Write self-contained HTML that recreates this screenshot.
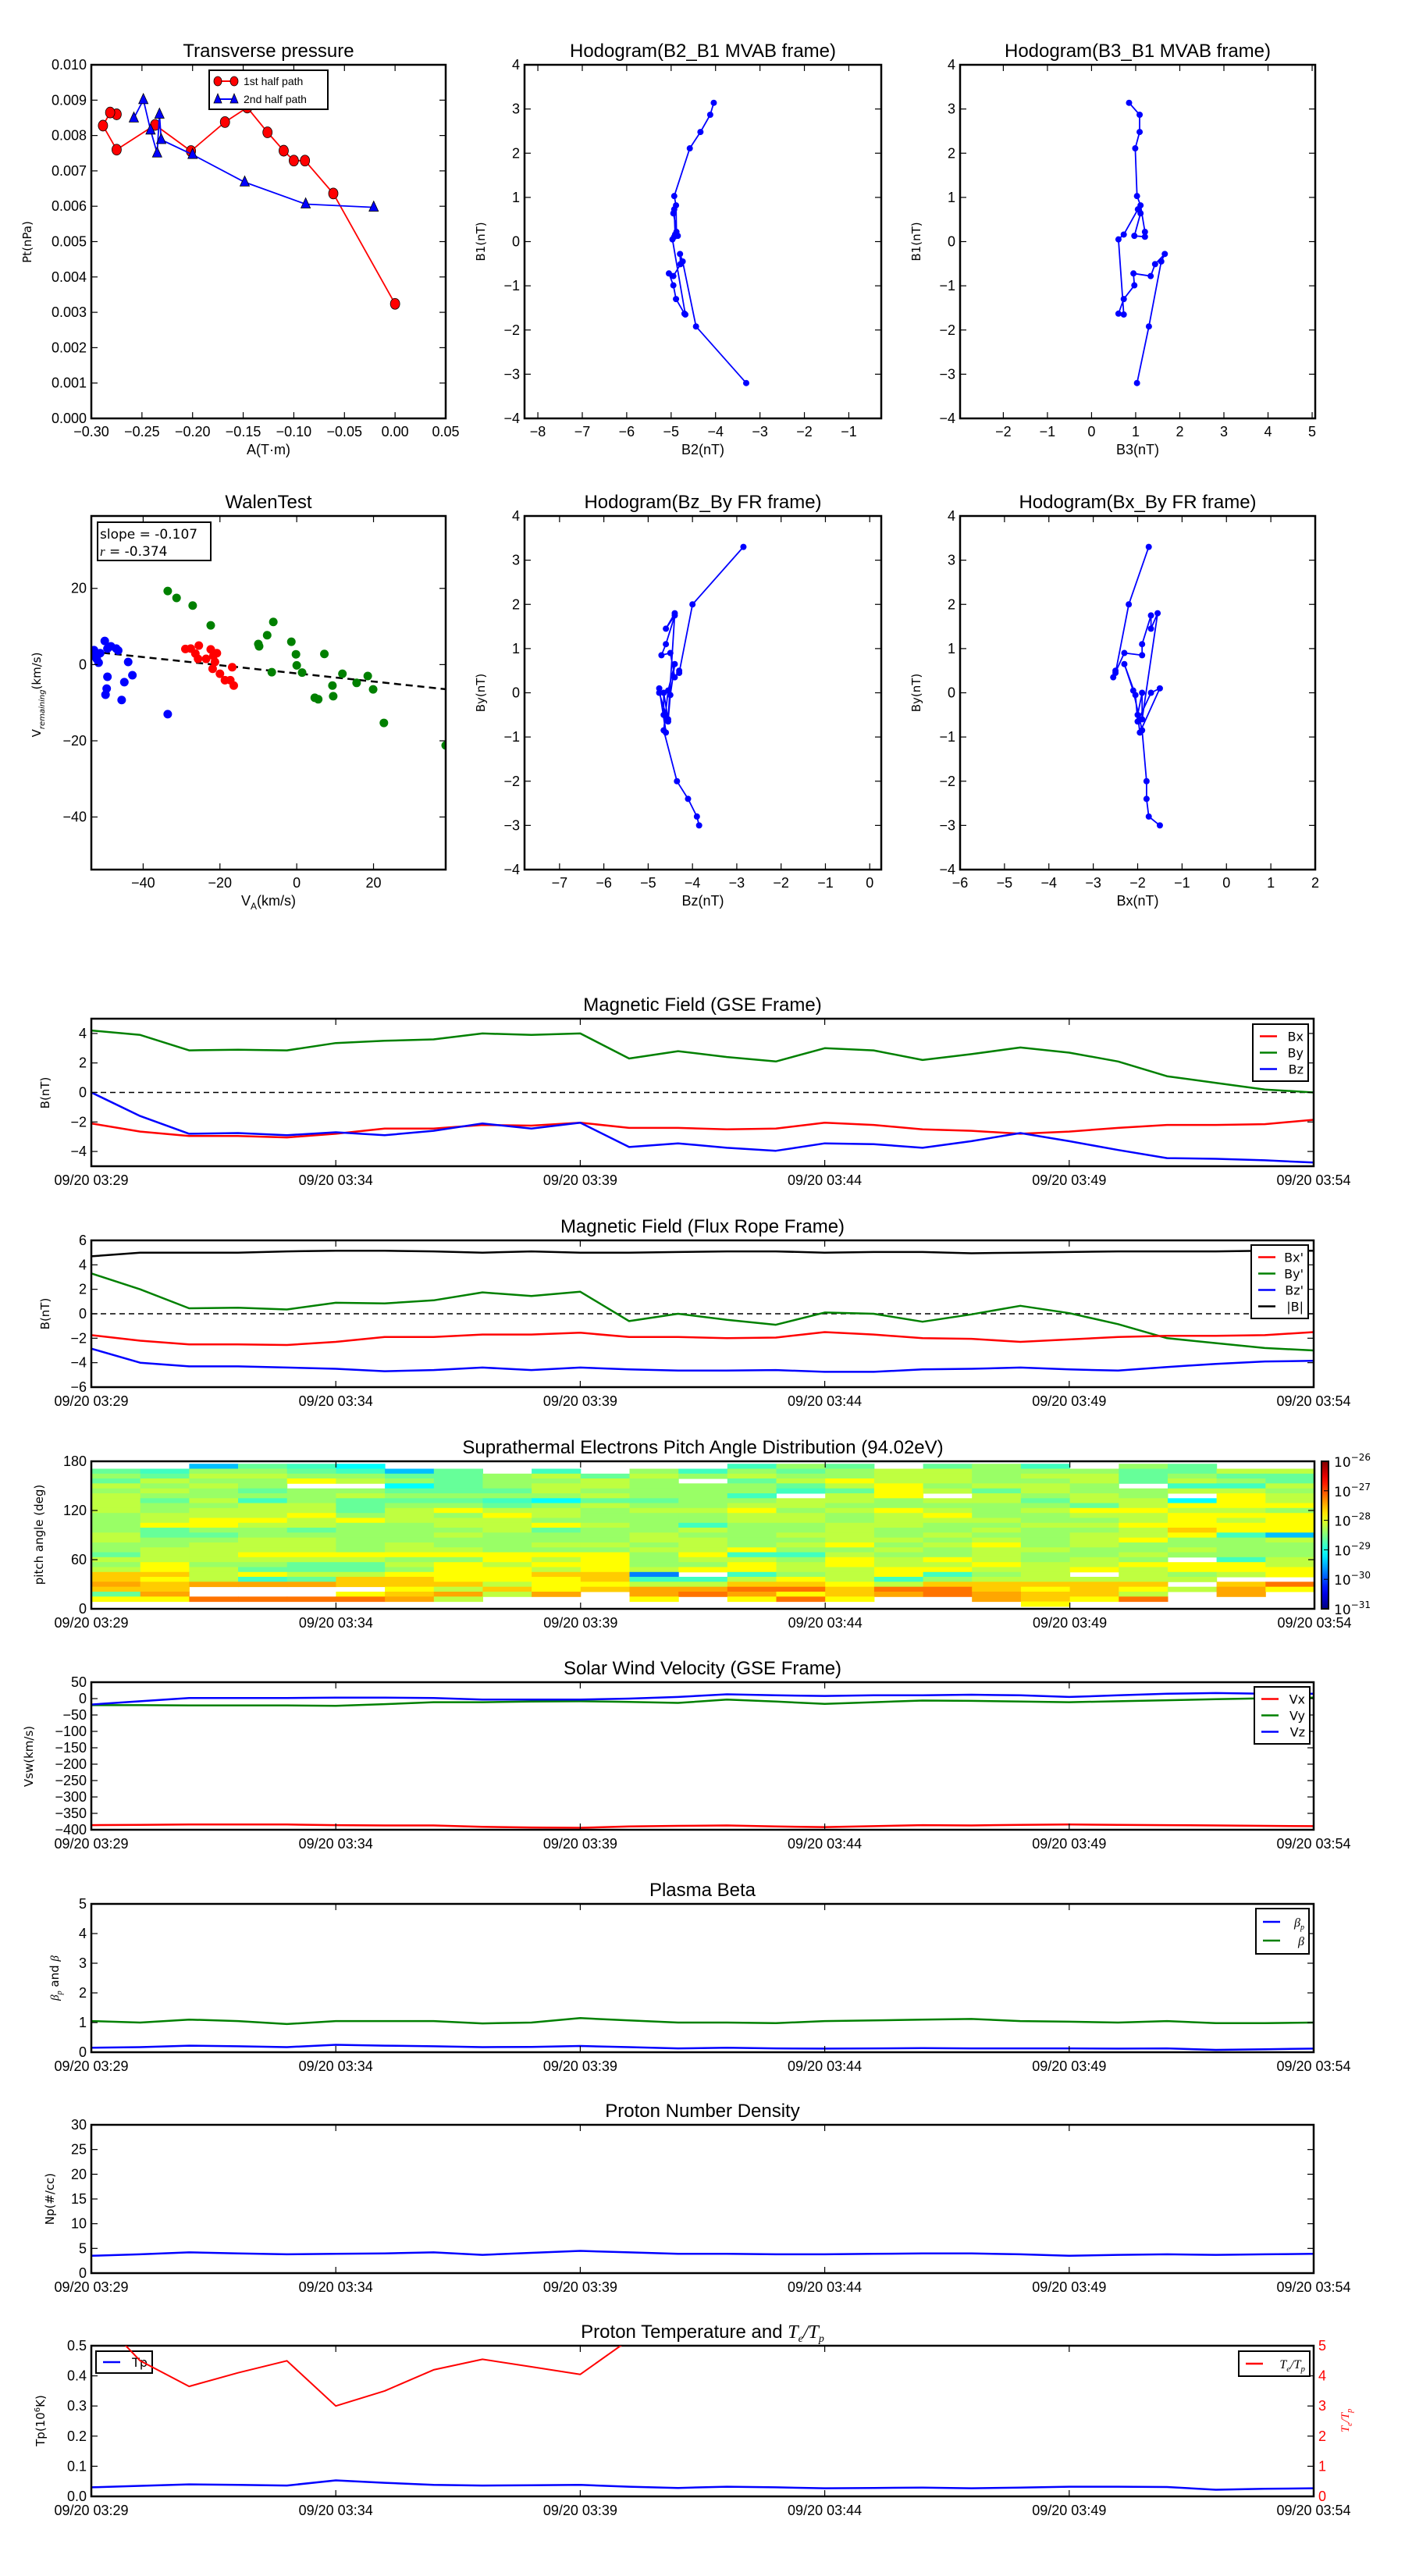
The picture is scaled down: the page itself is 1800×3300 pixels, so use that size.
<!DOCTYPE html>
<html><head><meta charset="utf-8"><title>Flux rope analysis</title>
<style>
html,body{margin:0;padding:0;background:#fff;}
svg{display:block;}
text{font-family:"Liberation Sans",sans-serif;}
.dv{font-family:"DejaVu Sans","Liberation Sans",sans-serif;}
</style></head>
<body>
<svg id="fig" xmlns="http://www.w3.org/2000/svg" width="1800" height="3300" viewBox="0 0 1800 3300">
<defs id="defs"></defs>
<rect x="0" y="0" width="1800" height="3300" fill="#fff"/>
</svg>
<script>
// ---------------- DATA ----------------
// Transverse pressure
const tpRedA = [-0.275,-0.2814,-0.2885,-0.275,-0.237,-0.2016,-0.168,-0.146,-0.126,-0.110,-0.100,-0.089,-0.061,0.0];
const tpRedPt = [0.0086,0.00865,0.00828,0.0076,0.0083,0.00756,0.00838,0.00879,0.00809,0.00757,0.00729,0.00729,0.00636,0.00324];
const tpBlueA = [-0.258,-0.2486,-0.2415,-0.235,-0.2327,-0.231,-0.200,-0.1485,-0.0883,-0.0211];
const tpBluePt = [0.00849,0.00901,0.00815,0.0075,0.0086,0.00788,0.00746,0.00668,0.00606,0.00597];
// MVAB hodograms
const mvB1 = [-3.2,-1.92,-0.45,-0.28,-0.51,-0.78,-0.72,-0.99,-1.30,-1.63,-1.65,0.05,0.16,0.73,0.64,0.13,0.11,0.22,0.82,1.03,2.11,2.48,2.87,3.14];
const mvB2 = [-3.31,-4.44,-4.74,-4.80,-4.79,-4.95,-5.05,-4.95,-4.89,-4.70,-4.68,-4.97,-4.91,-4.93,-4.95,-4.85,-4.93,-4.88,-4.89,-4.93,-4.58,-4.34,-4.12,-4.04];
const mvB3 = [1.03,1.30,1.58,1.66,1.44,1.34,0.95,0.97,0.73,0.61,0.73,0.61,0.73,1.05,1.11,0.97,1.21,1.21,1.11,1.03,0.99,1.09,1.09,0.85];
// Walen test
const walenBlueX = [-52.8,-52.1,-51.2,-50,-49.3,-48.4,-47,-46.5,-49.3,-49.5,-49.8,-43.9,-42.8,-44.9,-45.6,-33.6,-53,-51.6];
const walenBlueY = [3.8,1.5,3,6.2,4.2,4.8,4.2,3.7,-3.2,-6.3,-7.9,0.7,-2.8,-4.6,-9.3,-13,2.3,0.5];
const walenRedX = [-29,-27.6,-26.4,-25.5,-25.7,-22.4,-21.7,-20.8,-21.3,-21.9,-20,-18.7,-17.3,-16.4,-16.8,-23.6];
const walenRedY = [4.1,4.2,2.9,5,1.5,4,2.3,3,0.7,-1.1,-2.4,-4.1,-4.1,-5.5,-0.7,1.5];
const walenGreenX = [-33.6,-31.3,-27.1,-22.4,-6.1,-7.7,-9.8,-10,-1.4,-0.2,0,1.4,-6.5,7.2,11.9,15.6,18.5,19.9,9.3,9.5,4.7,5.6,22.7,38.8];
const walenGreenY = [19.3,17.5,15.5,10.3,11.2,7.7,4.8,5.4,6,2.7,-0.2,-2.1,-2,2.8,-2.4,-4.8,-3,-6.5,-5.5,-8.3,-8.7,-9.1,-15.3,-21.2];
const walenSlope = -0.107;
const walenIntercept = -2.3;
// Time series (minutes after 03:29)
const timeTickMinutes = [0,5,10,15,20,25];
const timeTickLabels = ['09/20 03:29','09/20 03:34','09/20 03:39','09/20 03:44','09/20 03:49','09/20 03:54'];
const gseBx = [-2.1,-2.65,-2.95,-2.95,-3.05,-2.8,-2.45,-2.45,-2.2,-2.25,-2.05,-2.4,-2.4,-2.5,-2.45,-2.05,-2.2,-2.5,-2.6,-2.8,-2.65,-2.4,-2.2,-2.2,-2.15,-1.85];
const gseBy = [4.2,3.9,2.85,2.9,2.85,3.35,3.5,3.6,4.0,3.9,4.0,2.3,2.8,2.4,2.1,3.0,2.85,2.2,2.6,3.05,2.7,2.1,1.1,0.65,0.2,0.0];
const gseBz = [0,-1.6,-2.8,-2.75,-2.9,-2.7,-2.9,-2.6,-2.1,-2.45,-2.05,-3.7,-3.45,-3.75,-3.95,-3.45,-3.5,-3.75,-3.3,-2.75,-3.3,-3.9,-4.45,-4.5,-4.6,-4.75];
const frBx = [-1.75,-2.2,-2.5,-2.5,-2.55,-2.3,-1.9,-1.9,-1.7,-1.7,-1.55,-1.9,-1.9,-2.0,-1.95,-1.5,-1.7,-2.0,-2.05,-2.3,-2.1,-1.9,-1.8,-1.8,-1.75,-1.5];
const frBy = [3.3,2.0,0.45,0.5,0.35,0.9,0.85,1.1,1.75,1.45,1.8,-0.6,0.0,-0.5,-0.9,0.1,0.0,-0.65,-0.05,0.65,0.05,-0.85,-2.0,-2.4,-2.8,-3.0];
const frBz = [-2.85,-4.0,-4.3,-4.3,-4.4,-4.5,-4.7,-4.6,-4.4,-4.6,-4.4,-4.55,-4.65,-4.65,-4.6,-4.75,-4.75,-4.55,-4.5,-4.4,-4.55,-4.65,-4.35,-4.1,-3.9,-3.85];
const frBt = [4.7,5.0,5.0,5.0,5.1,5.15,5.15,5.1,5.0,5.1,5.0,5.0,5.05,5.1,5.1,5.0,5.05,5.05,4.95,5.0,5.05,5.1,5.1,5.1,5.15,5.15];
const swVx = [-386,-385,-384,-384,-384,-386,-387,-387,-391,-393,-394,-390,-388,-387,-390,-392,-389,-386,-387,-385,-384,-385,-386,-387,-388,-389];
const swVy = [-20,-20,-21,-21,-21,-22,-17,-11,-11,-9,-8,-10,-13,-3,-9,-16,-11,-6,-7,-9,-11,-8,-5,-2,1,3];
const swVz = [-18,-8,2,2,2,3,3,2,-3,-3,-3,0,5,13,10,8,10,10,12,10,5,10,15,17,15,15];
const betaP = [0.15,0.17,0.22,0.2,0.17,0.25,0.22,0.2,0.17,0.18,0.21,0.17,0.13,0.15,0.13,0.12,0.13,0.14,0.13,0.13,0.13,0.12,0.13,0.08,0.1,0.12];
const betaT = [1.05,1.0,1.1,1.05,0.95,1.05,1.05,1.05,0.97,1.0,1.15,1.07,1.0,1.0,0.98,1.05,1.07,1.1,1.12,1.05,1.03,1.0,1.05,0.98,0.98,1.0];
const density = [3.5,3.8,4.2,4.0,3.8,3.9,4.0,4.2,3.7,4.1,4.5,4.2,3.9,3.9,3.8,3.8,3.9,4.0,4.0,3.8,3.5,3.7,3.8,3.7,3.8,3.9];
const tempTp = [0.03,0.035,0.04,0.038,0.036,0.053,0.045,0.038,0.036,0.037,0.038,0.032,0.028,0.032,0.03,0.027,0.028,0.029,0.027,0.029,0.032,0.032,0.031,0.022,0.025,0.027];
const tempRatio = [6.2,4.5,3.65,4.1,4.5,3.0,3.5,4.2,4.55,4.3,4.05,5.2,6.0,6.5,6.3,6.6,6.4,6.8,6.5,6.9,6.7,6.6,6.8,7.0,6.9,7.1];
// Pitch angle distribution (rows from 177 deg downward, 6 deg bins; 25 time bins). Level codes -> log10 flux
const padLevelCodes = {k:-29.75,a:-29.44,b:-29.125,c:-28.81,d:-28.625,e:-28.375,f:-28.19,g:-27.875,h:-27.625,i:-27.44,j:-27.19};
const padRows = [
"..adcb.......ced.dec.ed..",
"dceedcad.c.ecedeffeeeddff",
"edffeeddefdfefeeffeffdedd",
"dfeegfedeefe.dfgffeefdfed",
"fefe..bdeffeeedfgeffe.ccf",
"efedeedddfeeeecdgfdfeeffe",
"feeeefeeeefeec.fg.fefe.gf",
"fdfcedddcbddeeffeffdffbgf",
"feeffdeedefeeffeeeeedfggg",
"fefffdfgffeffgefgfefggffe",
"efffgefegfeeeffefgeeffggg",
"efggfgfffeeeeffefffeefgfg",
"eggffeeffgfeceeffeeffgggg",
"edeedeeefdeefeefeefeefhgg",
"fddeeeefeeefeeffefeeffgca",
"feeffeeeeeeffeeffefefgeef",
"eefffefeeffefefgefgefeeee",
"effffeffeeeffgeefeffeefee",
"dffggggggggegccfeefeefeee",
"ffffffeegfgeffegfgfefe.cf",
"egeeddfgfggeegfgffgffgggf",
"fgfdddeggfgfggffggffgfggg",
"hhfgffggghhk.cefgcef.fefg",
"hgfcdhhggghccfgfcefffff..",
"ihiiihhhfggffhhgfhhhhh.hj",
"hh....gfhghiijjhjjhghgfig",
"di...ghifi.ijighijihhf.i.",
"ggjjjjif...g.gjg..ihgj...",
"...................g....."
];
const padTopAngle = 177;
const padBinDeg = 6;
const cbTickExp = [-26,-27,-28,-29,-30,-31];

// ---------------- HELPERS ----------------
const NS = 'http://www.w3.org/2000/svg';
const svg = document.getElementById('fig');
const defs = document.getElementById('defs');
let clipCount = 0;
function mk(tag, attrs, parent, name, inter) {
  const el = document.createElementNS(NS, tag);
  for (const k in attrs) el.setAttribute(k, attrs[k]);
  
  
  (parent || svg).appendChild(el);
  return el;
}
function txt(parent, x, y, s, name, opts) {
  opts = opts || {};
  const el = mk('text', {x: x, y: y, 'font-size': opts.size || 18, 'text-anchor': opts.anchor || 'middle', fill: opts.fill || '#000'}, parent, name, false);
  if (opts.cls) el.setAttribute('class', opts.cls);
  if (opts.rot) el.setAttribute('transform', 'rotate(' + opts.rot + ' ' + x + ' ' + y + ')');
  if (opts.baseline) el.setAttribute('dominant-baseline', opts.baseline);
  el.textContent = s;
  return el;
}
function fmt(v, d) {
  const s = v.toFixed(d);
  return (v < 0 && Math.abs(v) > 1e-12) ? '\u2212' + s.slice(1) : (Math.abs(v) < 1e-12 ? (0).toFixed(d) : s);
}
function panel(name, l, t, r, b, xmin, xmax, ymin, ymax) {
  const g = mk('g', {}, svg, name, false);
  const id = 'clip' + (clipCount++);
  const cp = mk('clipPath', {id: id}, defs, name + '-clip', false);
  mk('rect', {x: l, y: t, width: r - l, height: b - t}, cp, name + '-clip-rect', false);
  const dg = mk('g', {'clip-path': 'url(#' + id + ')'}, g, name + '-plot-area', false);
  return {g: g, dg: dg, l: l, t: t, r: r, b: b,
    X: v => l + (v - xmin) / (xmax - xmin) * (r - l),
    Y: v => b - (v - ymin) / (ymax - ymin) * (b - t)};
}
function frame(p, name) {
  mk('rect', {x: p.l, y: p.t, width: p.r - p.l, height: p.b - p.t, fill: 'none', stroke: '#000', 'stroke-width': 2.5}, p.g, name + '-frame', false);
}
function xticks(p, vals, labels, name, opts) {
  opts = opts || {};
  vals.forEach((v, i) => {
    const x = p.X(v);
    mk('line', {x1: x, y1: p.b, x2: x, y2: p.b - 8, stroke: '#000', 'stroke-width': 1.2}, p.g, name + '-xtick', false);
    mk('line', {x1: x, y1: p.t, x2: x, y2: p.t + 8, stroke: '#000', 'stroke-width': 1.2}, p.g, name + '-xtick-top', false);
    txt(p.g, x, p.b + (opts.dy || 24), labels[i], name + '-xtick-label', {size: 18});
  });
}
function yticks(p, vals, labels, name, opts) {
  opts = opts || {};
  vals.forEach((v, i) => {
    const y = p.Y(v);
    mk('line', {x1: p.l, y1: y, x2: p.l + 8, y2: y, stroke: '#000', 'stroke-width': 1.2}, p.g, name + '-ytick', false);
    if (!opts.noRight) mk('line', {x1: p.r, y1: y, x2: p.r - 8, y2: y, stroke: '#000', 'stroke-width': 1.2}, p.g, name + '-ytick-right', false);
    txt(p.g, p.l - 6, y + 6, labels[i], name + '-ytick-label', {size: 18, anchor: 'end'});
  });
}
function line(p, xs, ys, color, w, name, dash) {
  const pts = xs.map((x, i) => p.X(x).toFixed(1) + ',' + p.Y(ys[i]).toFixed(1)).join(' ');
  const a = {points: pts, fill: 'none', stroke: color, 'stroke-width': w, 'stroke-linejoin': 'round'};
  if (dash) a['stroke-dasharray'] = dash;
  return mk('polyline', a, p.dg, name, false);
}
function dots(p, xs, ys, color, r, name) {
  xs.forEach((x, i) => {
    mk('ellipse', {cx: p.X(x), cy: p.Y(ys[i]), rx: r, ry: r, fill: color}, p.dg, name, false);
  });
}
function idx(arr) { return arr.map((_, i) => i); }
function legend(p, x, y, w, entries, name, opts) {
  opts = opts || {};
  const rowH = opts.rowH || 24;
  const h = entries.length * rowH + 10;
  const g = mk('g', {}, p.g, name, false);
  mk('rect', {x: x, y: y, width: w, height: h, fill: '#fff', stroke: '#000', 'stroke-width': 2}, g, name + '-box', false);
  entries.forEach((e, i) => {
    const cy = y + 5 + rowH * (i + 0.5);
    mk('line', {x1: x + 9, y1: cy, x2: x + 31, y2: cy, stroke: e.c, 'stroke-width': 2.5}, g, name + '-swatch', false);
    const t = txt(g, x + w - 6, cy + 6, '', name + '-label', {size: 16, anchor: 'end', cls: 'dv'});
    if (e.html) { e.html(t); } else { t.textContent = e.t; }
  });
  return g;
}
function title(p, s, name) { return txt(p.g, (p.l + p.r) / 2, p.t - 10, s, name, {size: 24}); }

// ---------------- TRANSVERSE PRESSURE ----------------
(function(){
  const p = panel('transverse-pressure-chart', 117, 83, 571, 536, -0.30, 0.05, 0, 0.010);
  line(p, tpRedA, tpRedPt, '#ff0000', 1.8, 'first-half-path-line');
  tpRedA.forEach((a, i) => {
    mk('ellipse', {cx: p.X(a), cy: p.Y(tpRedPt[i]), rx: 6, ry: 7, fill: '#ff0000', stroke: '#000', 'stroke-width': 0.8}, p.dg, 'first-half-point', false);
  });
  line(p, tpBlueA, tpBluePt, '#0000ff', 1.8, 'second-half-path-line');
  tpBlueA.forEach((a, i) => {
    const x = p.X(a), y = p.Y(tpBluePt[i]);
    mk('polygon', {points: (x) + ',' + (y - 8) + ' ' + (x - 6) + ',' + (y + 5) + ' ' + (x + 6) + ',' + (y + 5), fill: '#0000ff', stroke: '#000', 'stroke-width': 0.8}, p.dg, 'second-half-point', false);
  });
  frame(p, 'transverse-pressure');
  const xv = [-0.30,-0.25,-0.20,-0.15,-0.10,-0.05,0.00,0.05];
  xticks(p, xv, xv.map(v => fmt(v, 2)), 'tp', {dy: 23});
  const yv = [0,0.001,0.002,0.003,0.004,0.005,0.006,0.007,0.008,0.009,0.010];
  yticks(p, yv, yv.map(v => v.toFixed(3)), 'tp');
  title(p, 'Transverse pressure', 'tp-title');
  txt(p.g, 344, 582, 'A(T\u00b7m)', 'tp-x-axis-title', {size: 18});
  txt(p.g, 40, 310, 'Pt(nPa)', 'tp-y-axis-title', {size: 15, rot: -90, cls: 'dv'});
  // legend
  const g = mk('g', {}, p.g, 'tp-legend', false);
  mk('rect', {x: 268, y: 90, width: 152, height: 50, fill: '#fff', stroke: '#000', 'stroke-width': 2}, g, 'tp-legend-box', false);
  mk('line', {x1: 277, y1: 104, x2: 303, y2: 104, stroke: '#ff0000', 'stroke-width': 2}, g, 'tp-legend-red-line', false);
  mk('ellipse', {cx: 279, cy: 104, rx: 5, ry: 6, fill: '#ff0000', stroke: '#000', 'stroke-width': 0.8}, g, 'tp-legend-red-marker', false);
  mk('ellipse', {cx: 300, cy: 104, rx: 5, ry: 6, fill: '#ff0000', stroke: '#000', 'stroke-width': 0.8}, g, 'tp-legend-red-marker', false);
  mk('line', {x1: 277, y1: 127, x2: 303, y2: 127, stroke: '#0000ff', 'stroke-width': 2}, g, 'tp-legend-blue-line', false);
  mk('polygon', {points: '279,120 274,132 284,132', fill: '#0000ff', stroke: '#000', 'stroke-width': 0.8}, g, 'tp-legend-blue-marker', false);
  mk('polygon', {points: '300,120 295,132 305,132', fill: '#0000ff', stroke: '#000', 'stroke-width': 0.8}, g, 'tp-legend-blue-marker', false);
  txt(g, 312, 109, '1st half path', 'tp-legend-label-1', {size: 14, anchor: 'start'});
  txt(g, 312, 132, '2nd half path', 'tp-legend-label-2', {size: 14, anchor: 'start'});
})();

// ---------------- HODOGRAM helper ----------------
function hodogram(name, l, t, r, b, xmin, xmax, xs, ys, xvals, titleS, xl, yl, rowY) {
  const p = panel(name, l, t, r, b, xmin, xmax, -4, 4);
  line(p, xs, ys, '#0000ff', 1.8, name + '-path');
  dots(p, xs, ys, '#0000ff', 4, name + '-point');
  frame(p, name);
  xticks(p, xvals, xvals.map(v => fmt(v, 0)), name, {dy: 23});
  const yv = [-4,-3,-2,-1,0,1,2,3,4];
  yticks(p, yv, yv.map(v => fmt(v, 0)), name);
  title(p, titleS, name + '-title');
  txt(p.g, (l + r) / 2, b + 46, xl, name + '-x-axis-title', {size: 18});
  txt(p.g, l - 51, (t + b) / 2, yl, name + '-y-axis-title', {size: 15, rot: -90, cls: 'dv'});
  return p;
}
hodogram('hodogram-b2-b1', 672, 83, 1129, 536, -8.3, -0.27, mvB2, mvB1, [-8,-7,-6,-5,-4,-3,-2,-1], 'Hodogram(B2_B1 MVAB frame)', 'B2(nT)', 'B1(nT)');
hodogram('hodogram-b3-b1', 1230, 83, 1685, 536, -2.98, 5.07, mvB3, mvB1, [-2,-1,0,1,2,3,4,5], 'Hodogram(B3_B1 MVAB frame)', 'B3(nT)', 'B1(nT)');
hodogram('hodogram-bz-by', 672, 661, 1129, 1114, -7.79, 0.26, frBz, frBy, [-7,-6,-5,-4,-3,-2,-1,0], 'Hodogram(Bz_By FR frame)', 'Bz(nT)', 'By(nT)');
hodogram('hodogram-bx-by', 1230, 661, 1685, 1114, -6, 2, frBx, frBy, [-6,-5,-4,-3,-2,-1,0,1,2], 'Hodogram(Bx_By FR frame)', 'Bx(nT)', 'By(nT)');

// ---------------- WALEN TEST ----------------
(function(){
  const p = panel('walen-test-chart', 117, 661, 571, 1114, -53.5, 38.8, -53.8, 39);
  const lx = [-53.5, 38.8];
  line(p, lx, lx.map(x => walenSlope * x + walenIntercept), '#000', 2.5, 'walen-fit-line', '9,6');
  dots(p, walenBlueX, walenBlueY, '#0000ff', 5.5, 'walen-blue-point');
  dots(p, walenRedX, walenRedY, '#ff0000', 5.5, 'walen-red-point');
  dots(p, walenGreenX, walenGreenY, '#008000', 5.5, 'walen-green-point');
  frame(p, 'walen');
  const xv = [-40,-20,0,20];
  xticks(p, xv, xv.map(v => fmt(v, 0)), 'walen', {dy: 23});
  const yv = [-40,-20,0,20];
  yticks(p, yv, yv.map(v => fmt(v, 0)), 'walen');
  title(p, 'WalenTest', 'walen-title');
  const xl = txt(p.g, 344, 1160, '', 'walen-x-axis-title', {size: 18});
  xl.innerHTML = 'V<tspan font-size="12" dy="5">A</tspan><tspan dy="-5">(km/s)</tspan>';
  const yl = txt(p.g, 52, 890, '', 'walen-y-axis-title', {size: 15, rot: -90, cls: 'dv', anchor: 'middle'});
  yl.innerHTML = 'V<tspan font-size="10" font-style="italic" dy="5">remaining</tspan><tspan dy="-5">(km/s)</tspan>';
  yl.setAttribute('x', 52); yl.setAttribute('y', 890);
  const g = mk('g', {}, p.g, 'walen-annotation', false);
  mk('rect', {x: 125, y: 669, width: 145, height: 49, fill: '#fff', stroke: '#000', 'stroke-width': 2}, g, 'walen-annotation-box', false);
  txt(g, 128, 690, 'slope = -0.107', 'walen-slope-text', {size: 17, anchor: 'start', cls: 'dv'});
  const rt = txt(g, 128, 712, '', 'walen-r-text', {size: 17, anchor: 'start', cls: 'dv'});
  rt.innerHTML = '<tspan font-style="italic" font-family="Liberation Serif">r</tspan> = -0.374';
})();

// ---------------- TIME SERIES helper ----------------
const TL = 117, TR = 1683;
function tsPanel(name, t, b, ymin, ymax, yvals, ylabels, titleS, ylabelS) {
  const p = panel(name, TL, t, TR, b, 0, 25, ymin, ymax);
  p.ticks = () => {
    frame(p, name);
    xticks(p, timeTickMinutes, timeTickLabels, name, {dy: 24});
    yticks(p, yvals, ylabels, name);
  };
  const tt = title(p, titleS, name + '-title');
  p.titleEl = tt;
  return p;
}

// Magnetic field GSE
(function(){
  const yv = [-4,-2,0,2,4];
  const p = tsPanel('magnetic-field-gse-chart', 1305, 1494, -5, 5, yv, yv.map(v => fmt(v, 0)), 'Magnetic Field (GSE Frame)');
  line(p, [0,25], [0,0], '#000', 1.5, 'gse-zero-line', '7,5');
  line(p, idx(gseBy), gseBy, '#008000', 2.5, 'gse-by-line');
  line(p, idx(gseBx), gseBx, '#ff0000', 2.5, 'gse-bx-line');
  line(p, idx(gseBz), gseBz, '#0000ff', 2.5, 'gse-bz-line');
  p.ticks();
  txt(p.g, 63, 1400, 'B(nT)', 'gse-y-axis-title', {size: 15, rot: -90, cls: 'dv'});
  legend(p, 1605, 1312, 71, [{c:'#ff0000',t:'Bx'},{c:'#008000',t:'By'},{c:'#0000ff',t:'Bz'}], 'gse-legend', {rowH: 21});
})();

// Magnetic field flux rope
(function(){
  const yv = [-6,-4,-2,0,2,4,6];
  const p = tsPanel('magnetic-field-fr-chart', 1589, 1777, -6, 6, yv, yv.map(v => fmt(v, 0)), 'Magnetic Field (Flux Rope Frame)');
  line(p, [0,25], [0,0], '#000', 1.5, 'fr-zero-line', '7,5');
  line(p, idx(frBt), frBt, '#000', 2.5, 'fr-bt-line');
  line(p, idx(frBy), frBy, '#008000', 2.5, 'fr-by-line');
  line(p, idx(frBx), frBx, '#ff0000', 2.5, 'fr-bx-line');
  line(p, idx(frBz), frBz, '#0000ff', 2.5, 'fr-bz-line');
  p.ticks();
  txt(p.g, 63, 1683, 'B(nT)', 'fr-y-axis-title', {size: 15, rot: -90, cls: 'dv'});
  legend(p, 1603, 1595, 73, [{c:'#ff0000',t:"Bx'"},{c:'#008000',t:"By'"},{c:'#0000ff',t:"Bz'"},{c:'#000',t:'|B|'}], 'fr-legend', {rowH: 21});
})();

// Pitch angle distribution
function jet(t) {
  t = Math.max(0, Math.min(1, t));
  const c = v => Math.round(255 * Math.max(0, Math.min(1, v)));
  return 'rgb(' + c(1.5 - Math.abs(4 * t - 3)) + ',' + c(1.5 - Math.abs(4 * t - 2)) + ',' + c(1.5 - Math.abs(4 * t - 1)) + ')';
}
(function(){
  const yv = [0,60,120,180];
  const p = panel('pitch-angle-chart', TL, 1872, 1684, 2061, 0, 25, 0, 180);
  const padValues = padRows.map(r => r.split('').map(ch => ch === '.' ? null : padLevelCodes[ch]));
  padValues.forEach((row, ri) => {
    const hi = padTopAngle - padBinDeg * ri, lo = hi - padBinDeg;
    row.forEach((v, ci) => {
      if (v === null) return;
      const x0 = p.X(ci), x1 = p.X(ci + 1), y0 = p.Y(hi), y1 = p.Y(lo);
      mk('rect', {x: x0.toFixed(1), y: y0.toFixed(1), width: (x1 - x0 + 0.5).toFixed(1), height: (y1 - y0 + 0.5).toFixed(1), fill: jet((v + 31) / 5)}, p.dg, 'pad-cell', false);
    });
  });
  frame(p, 'pad');
  xticks(p, timeTickMinutes, timeTickLabels, 'pad', {dy: 24});
  yticks(p, yv, yv.map(v => String(v)), 'pad');
  title(p, 'Suprathermal Electrons Pitch Angle Distribution (94.02eV)', 'pad-title');
  txt(p.g, 55, 1966, 'pitch angle (deg)', 'pad-y-axis-title', {size: 15, rot: -90, cls: 'dv'});
  // colorbar
  const grad = mk('linearGradient', {id: 'jetgrad', x1: 0, y1: 1, x2: 0, y2: 0}, defs, 'colorbar-gradient', false);
  for (let i = 0; i <= 20; i++) {
    mk('stop', {offset: (i / 20), 'stop-color': jet(0.0 + i / 20 * 1.0)}, grad, 'colorbar-stop', false);
  }
  const cb = mk('g', {}, svg, 'colorbar', false);
  mk('rect', {x: 1693, y: 1872, width: 9, height: 189, fill: 'url(#jetgrad)', stroke: '#000', 'stroke-width': 2}, cb, 'colorbar-bar', false);
  cbTickExp.forEach((e, i) => {
    const y = 1872 + (-26 - e) / 5 * 189;
    mk('line', {x1: 1696, y1: y, x2: 1702, y2: y, stroke: '#000', 'stroke-width': 1}, cb, 'colorbar-tick', false);
    const t = txt(cb, 1709, y + 7, '', 'colorbar-tick-label', {size: 17, anchor: 'start', cls: 'dv'});
    t.innerHTML = '10<tspan font-size="12" dy="-8">' + String(e).replace('-', '\u2212') + '</tspan>';
  });
})();

// Solar wind velocity
(function(){
  const yv = [50,0,-50,-100,-150,-200,-250,-300,-350,-400];
  const p = tsPanel('solar-wind-velocity-chart', 2155, 2344, -400, 50, yv, yv.map(v => fmt(v, 0)), 'Solar Wind Velocity (GSE Frame)');
  line(p, idx(swVx), swVx, '#ff0000', 2.5, 'sw-vx-line');
  line(p, idx(swVy), swVy, '#008000', 2.5, 'sw-vy-line');
  line(p, idx(swVz), swVz, '#0000ff', 2.5, 'sw-vz-line');
  p.ticks();
  txt(p.g, 42, 2250, 'Vsw(km/s)', 'sw-y-axis-title', {size: 15, rot: -90, cls: 'dv'});
  legend(p, 1607, 2161, 71, [{c:'#ff0000',t:'Vx'},{c:'#008000',t:'Vy'},{c:'#0000ff',t:'Vz'}], 'sw-legend', {rowH: 21});
})();

// Plasma beta
(function(){
  const yv = [0,1,2,3,4,5];
  const p = tsPanel('plasma-beta-chart', 2439, 2629, 0, 5, yv, yv.map(v => String(v)), 'Plasma Beta');
  line(p, idx(betaT), betaT, '#008000', 2.5, 'beta-total-line');
  line(p, idx(betaP), betaP, '#0000ff', 2.5, 'beta-proton-line');
  p.ticks();
  const yl = txt(p.g, 75, 2534, '', 'beta-y-axis-title', {size: 15, rot: -90, cls: 'dv'});
  yl.innerHTML = '<tspan font-style="italic" font-family="Liberation Serif">\u03b2<tspan font-size="10" dy="4">p</tspan></tspan><tspan dy="-4"> and </tspan><tspan font-style="italic" font-family="Liberation Serif">\u03b2</tspan>';
  legend(p, 1609, 2445, 68, [
    {c:'#0000ff', html: t => { t.innerHTML = '<tspan font-style="italic" font-family="Liberation Serif">\u03b2<tspan font-size="10" dy="4">p</tspan></tspan>'; }},
    {c:'#008000', html: t => { t.innerHTML = '<tspan font-style="italic" font-family="Liberation Serif">\u03b2</tspan>'; }}
  ], 'beta-legend', {rowH: 24});
})();

// Proton density
(function(){
  const yv = [0,5,10,15,20,25,30];
  const p = tsPanel('proton-density-chart', 2722, 2912, 0, 30, yv, yv.map(v => String(v)), 'Proton Number Density');
  line(p, idx(density), density, '#0000ff', 2.5, 'density-line');
  p.ticks();
  txt(p.g, 69, 2817, 'Np(#/cc)', 'density-y-axis-title', {size: 15, rot: -90, cls: 'dv'});
})();

// Proton temperature and Te/Tp
(function(){
  const yv = [0,0.1,0.2,0.3,0.4,0.5];
  const p = tsPanel('proton-temperature-chart', 3005, 3198, 0, 0.5, yv, yv.map(v => v.toFixed(1)), '');
  p.titleEl.innerHTML = 'Proton Temperature and <tspan font-style="italic" font-family="Liberation Serif">T<tspan font-size="14" dy="5">e</tspan><tspan dy="-5">/T</tspan><tspan font-size="14" dy="5">p</tspan></tspan>';
  line(p, idx(tempTp), tempTp, '#0000ff', 2.5, 'temperature-tp-line');
  legend(p, 123, 3012, 72, [{c:'#0000ff',t:'Tp'}], 'tp-legend', {rowH: 18});
  const p2 = panel('te-tp-axis', TL, 3005, TR, 3198, 0, 25, 0, 5);
  line(p2, idx(tempRatio), tempRatio, '#ff0000', 2, 'te-tp-ratio-line');
  p.ticks();
  [0,1,2,3,4,5].forEach(v => {
    txt(p2.g, TR + 6, p2.Y(v) + 6, String(v), 'te-tp-tick-label', {size: 18, anchor: 'start', fill: '#ff0000'});
  });
  const yl = txt(p.g, 57, 3101, '', 'temperature-y-axis-title', {size: 15, rot: -90, cls: 'dv'});
  yl.innerHTML = 'Tp(10<tspan font-size="10" dy="-6">6</tspan><tspan dy="6">K)</tspan>';
  const yr = txt(p2.g, 1728, 3101, '', 'te-tp-y-axis-title', {size: 15, rot: -90, fill: '#ff0000'});
  yr.innerHTML = '<tspan font-style="italic" font-family="Liberation Serif">T<tspan font-size="10" dy="4">e</tspan><tspan dy="-4">/T</tspan><tspan font-size="10" dy="4">p</tspan></tspan>';
  legend(p2, 1587, 3012, 91, [{c:'#ff0000', html: t => { t.innerHTML = '<tspan font-style="italic" font-family="Liberation Serif">T<tspan font-size="11" dy="4">e</tspan><tspan dy="-4">/T</tspan><tspan font-size="11" dy="4">p</tspan></tspan>'; }}], 'te-tp-legend', {rowH: 22});
})();
</script>
</body></html>
